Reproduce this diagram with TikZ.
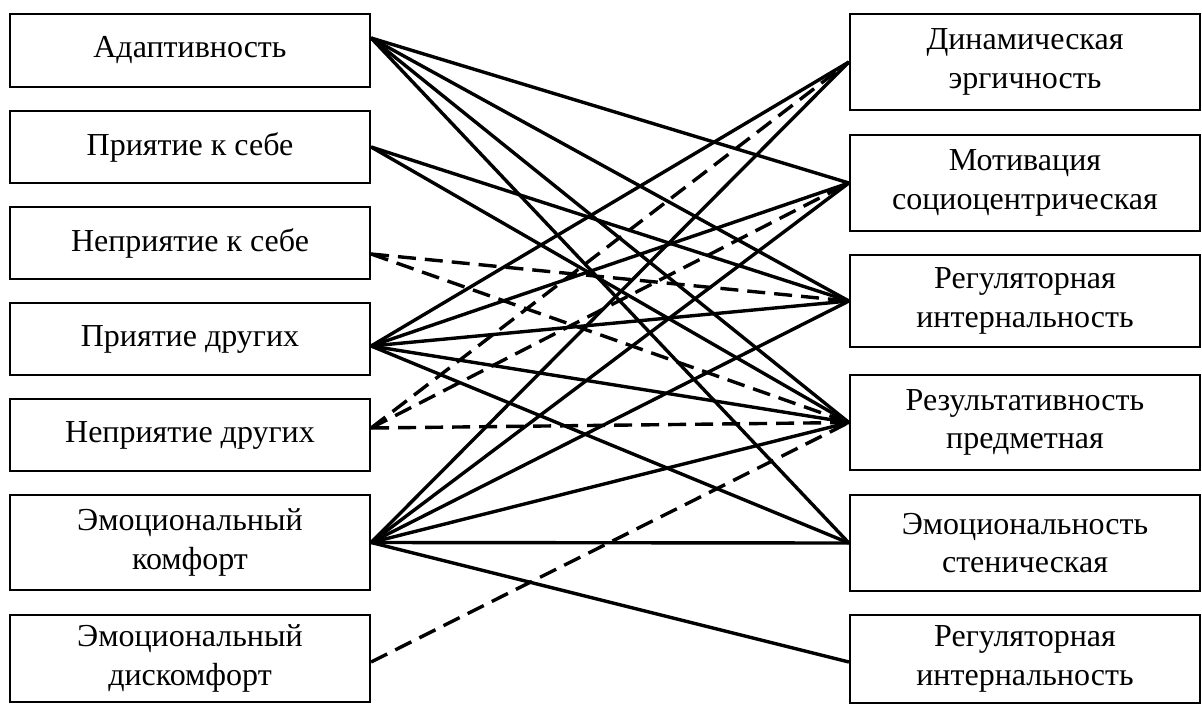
\documentclass[tikz,border=0pt]{standalone}
\usepackage{fontspec}
\setmainfont{Liberation Serif}
\begin{document}
\begin{tikzpicture}[x=1pt,y=-1pt,
  box/.style={draw,line width=2.2pt,rectangle,inner sep=0pt,align=center,
    font=\fontsize{32}{38.5}\selectfont,minimum width=#1},
  lbox/.style={box=360pt},
  rbox/.style={box=350pt},
  con/.style={line width=3.4pt},
  dcon/.style={line width=3.4pt,dash pattern=on 18pt off 9pt}]
\useasboundingbox (0,0) rectangle (1202,704);
% left column
\node[lbox,minimum height=73pt] (L1) at (190,50.5) {Адаптивность};
\node[lbox,minimum height=72pt] (L2) at (190,147) {Приятие к себе};
\node[lbox,minimum height=72pt] (L3) at (190,243) {Неприятие к себе};
\node[lbox,minimum height=72pt] (L4) at (190,339) {Приятие других};
\node[lbox,minimum height=72pt] (L5) at (190,435) {Неприятие других};
\node[lbox,minimum height=95pt] (L6) at (190,542.5) {Эмоциональный\\комфорт};
\node[lbox,minimum height=87pt] (L7) at (190,658.5) {Эмоциональный\\дискомфорт};
% right column
\node[rbox,minimum height=96pt] (R1) at (1025,62) {Динамическая\\эргичность};
\node[rbox,minimum height=96pt] (R2) at (1025,183) {Мотивация\\социоцентрическая};
\node[rbox,minimum height=92pt] (R3) at (1025,301) {Регуляторная\\интернальность};
\node[rbox,minimum height=95pt] (R4) at (1025,422.5) {Результативность\\предметная};
\node[rbox,minimum height=96pt] (R5) at (1025,543) {Эмоциональность\\стеническая};
\node[rbox,minimum height=88pt] (R6) at (1025,659) {Регуляторная\\интернальность};
% ports
\coordinate (a1) at ([yshift=12.5pt]L1.east);
\coordinate (a2) at (L2.east);
\coordinate (a3) at ([yshift=-11pt]L3.east);
\coordinate (a4) at ([yshift=-7pt]L4.east);
\coordinate (a5) at ([yshift=7pt]L5.east);
\coordinate (a6) at (L6.east);
\coordinate (a7) at ([yshift=-3.5pt]L7.east);
\coordinate (b1) at (R1.west);
\coordinate (b2) at (R2.west);
\coordinate (b3) at (R3.west);
\coordinate (b4) at (R4.west);
\coordinate (b5) at (R5.west);
\coordinate (b6) at ([yshift=-3pt]R6.west);
% solid connectors
\foreach \t in {2,3,4,5} \draw[con] (a1) -- (b\t);
\foreach \t in {3,4} \draw[con] (a2) -- (b\t);
\foreach \t in {1,2,3,4,5} \draw[con] (a4) -- (b\t);
\foreach \t in {1,2,3,4,5,6} \draw[con] (a6) -- (b\t);
% dashed connectors
\foreach \t in {3,4} \draw[dcon] (a3) -- (b\t);
\foreach \t in {1,2,4} \draw[dcon] (a5) -- (b\t);
\draw[dcon] (a7) -- (b4);
\end{tikzpicture}
\end{document}
